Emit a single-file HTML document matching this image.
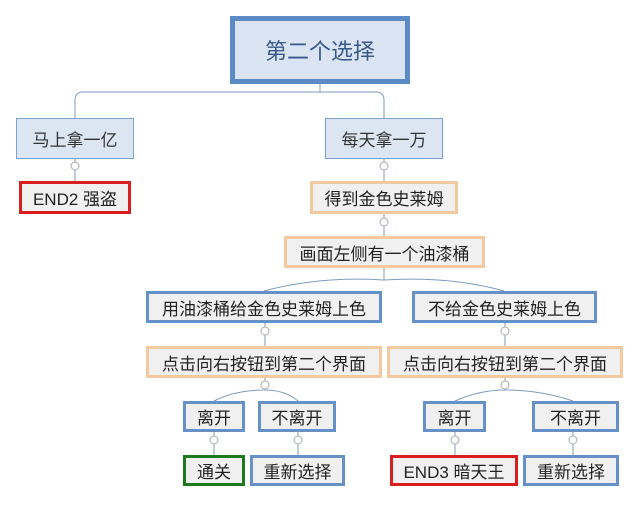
<!DOCTYPE html><html><head><meta charset="utf-8"><style>
body{margin:0;width:641px;height:506px;background:#fff;position:relative;overflow:hidden;font-family:"Liberation Sans","Noto Sans CJK SC",sans-serif}
.n{position:absolute;box-sizing:border-box;display:flex;align-items:center;justify-content:center;font-size:17px;color:#222;background:#f0f0f0;white-space:nowrap}
.l1{background:#dce6f2;border:1px solid #7aa0cc;color:#333}
.b{border:3px solid #6690c8}
.o{border:3px solid #f3c9a0}
.r{border:3px solid #d81e1e}
.g{border:3px solid #1e7a1e}
svg{position:absolute;left:0;top:0}
</style></head><body>
<svg width="641" height="506" fill="none" stroke="#7f9bbf" stroke-width="1">
<path d="M320 84V92M75 118V100Q75 92 83 92H376Q384 92 384 100V118"/>
<path d="M75 159V181M384 159V181M384 214V236M384 268V280"/>
<path d="M264 291Q320 276 384 280Q450 276 504 291"/>
<path d="M265 323V346M505 323V346"/>
<path d="M265 378V390M214 401Q235 390 265 390Q285 390 298 401"/>
<path d="M505 378V390M455 401Q480 390 505 390Q540 390 573 401"/>
<path d="M214 432V455M298 432V455M455 432V455M573 432V455"/>
<g fill="#fff" stroke="#aaa"><circle cx="75" cy="166" r="4"/><circle cx="384" cy="166" r="4"/><circle cx="384" cy="222" r="4"/><circle cx="265" cy="331" r="4"/><circle cx="505" cy="331" r="4"/><circle cx="265" cy="385" r="4"/><circle cx="505" cy="385" r="4"/><circle cx="214" cy="440" r="4"/><circle cx="298" cy="440" r="4"/><circle cx="455" cy="440" r="4"/><circle cx="573" cy="440" r="4"/></g>
</svg>
<div class="n" style="left:230px;top:16px;width:180px;height:68px;background:#dae4f2;border:5px solid #5b8ac6;font-size:22px;color:#3a5a8a">第二个选择</div>
<div class="n l1" style="left:16px;top:118px;width:118px;height:41px">马上拿一亿</div>
<div class="n l1" style="left:325px;top:118px;width:118px;height:41px">每天拿一万</div>
<div class="n r" style="left:19px;top:181px;width:112px;height:33px">END2 强盗</div>
<div class="n o" style="left:310px;top:181px;width:148px;height:33px">得到金色史莱姆</div>
<div class="n o" style="left:284px;top:236px;width:201px;height:32px">画面左侧有一个油漆桶</div>
<div class="n b" style="left:146px;top:291px;width:236px;height:32px">用油漆桶给金色史莱姆上色</div>
<div class="n b" style="left:412px;top:291px;width:185px;height:32px">不给金色史莱姆上色</div>
<div class="n o" style="left:146px;top:346px;width:236px;height:32px">点击向右按钮到第二个界面</div>
<div class="n o" style="left:387px;top:346px;width:236px;height:32px">点击向右按钮到第二个界面</div>
<div class="n b" style="left:183px;top:401px;width:62px;height:31px">离开</div>
<div class="n b" style="left:258px;top:401px;width:78px;height:31px">不离开</div>
<div class="n b" style="left:423px;top:401px;width:63px;height:31px">离开</div>
<div class="n b" style="left:532px;top:401px;width:87px;height:31px">不离开</div>
<div class="n g" style="left:183px;top:455px;width:62px;height:31px">通关</div>
<div class="n b" style="left:250px;top:455px;width:95px;height:31px">重新选择</div>
<div class="n r" style="left:390px;top:455px;width:128px;height:31px">END3 暗天王</div>
<div class="n b" style="left:523px;top:455px;width:96px;height:31px">重新选择</div>
</body></html>
